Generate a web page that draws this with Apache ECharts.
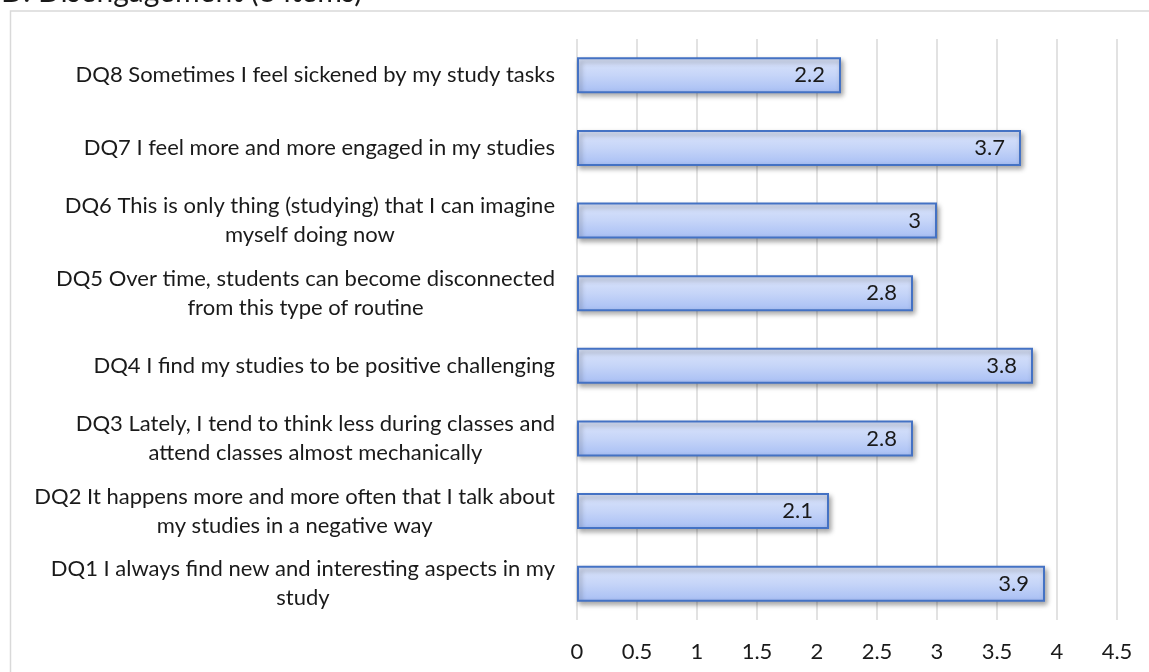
<!DOCTYPE html>
<html>
<head>
<meta charset="utf-8">
<script src="https://cdn.jsdelivr.net/npm/echarts@6/dist/echarts.min.js"></script>
<style>
  html, body { margin: 0; padding: 0; background: #ffffff; }
  #chart { width: 1149px; height: 672px; }
</style>
</head>
<body>
<div id="chart"></div>
<script>
// Survey items, bottom to top (DQ1 .. DQ8); "\n" marks where the label wraps
const categories = [
  'DQ1 I always find new and interesting aspects in my\nstudy',
  'DQ2 It happens more and more often that I talk about\nmy studies in a negative way',
  'DQ3 Lately, I tend to think less during classes and\nattend classes almost mechanically',
  'DQ4 I find my studies to be positive challenging',
  'DQ5 Over time, students can become disconnected\nfrom this type of routine',
  'DQ6 This is only thing (studying) that I can imagine\nmyself doing now',
  'DQ7 I feel more and more engaged in my studies',
  'DQ8 Sometimes I feel sickened by my study tasks'
];

// Mean score for each item
const scores = [3.9, 2.1, 2.8, 3.8, 2.8, 3.0, 3.7, 2.2];

// Value axis ticks
const axisMin = 0;
const axisMax = 4.5;
const axisStep = 0.5;

const titleText = 'D. Disengagement (8 items)';

const FONT = 'Lato, "Liberation Sans", sans-serif';
const TEXT_COLOR = '#1a1a1a';
const LABEL_SIZE = 22;

const chart = echarts.init(document.getElementById('chart'));

chart.setOption({
  backgroundColor: '#ffffff',
  animation: false,
  graphic: [
    {
      type: 'rect',
      z: -10,
      silent: true,
      shape: { x: 10.5, y: 11, width: 1300, height: 800 },
      style: { fill: 'none', stroke: '#d9d9d9', lineWidth: 1.5 }
    },
    {
      type: 'text',
      left: 1,
      top: -23,
      silent: true,
      style: {
        text: titleText,
        fontFamily: FONT,
        fontSize: 30,
        fill: TEXT_COLOR
      }
    }
  ],
  grid: { left: 577, right: 32, top: 39, bottom: 52 },
  xAxis: {
    type: 'value',
    min: axisMin,
    max: axisMax,
    interval: axisStep,
    axisLine: { show: false },
    axisTick: { show: false },
    splitLine: { show: true, lineStyle: { color: '#d9d9d9', width: 1.5 } },
    axisLabel: {
      margin: 21,
      fontFamily: FONT,
      fontSize: LABEL_SIZE,
      color: TEXT_COLOR,
      formatter: v => String(v)
    }
  },
  yAxis: {
    type: 'category',
    data: categories,
    axisLine: { show: false },
    axisTick: { show: false },
    splitLine: { show: false },
    axisLabel: {
      margin: 22,
      fontFamily: FONT,
      fontSize: LABEL_SIZE,
      color: TEXT_COLOR,
      lineHeight: 29,
      formatter: v => v.split('\n').map(line => '{c|' + line + '}').join('\n'),
      rich: {
        c: {
          align: 'center',
          fontFamily: FONT,
          fontSize: LABEL_SIZE,
          lineHeight: 29,
          color: TEXT_COLOR
        }
      }
    }
  },
  series: [
    {
      type: 'bar',
      data: scores,
      barWidth: 36,
      itemStyle: {
        color: new echarts.graphic.LinearGradient(0, 0, 0, 1, [
          { offset: 0, color: '#dce5fb' },
          { offset: 0.5, color: '#c6d5f8' },
          { offset: 1, color: '#a7bef4' }
        ]),
        borderColor: '#4472c4',
        borderWidth: 2,
        shadowColor: 'rgba(0,0,0,0.35)',
        shadowBlur: 5,
        shadowOffsetX: 2,
        shadowOffsetY: 3
      },
      label: {
        show: true,
        position: 'insideRight',
        distance: 16,
        fontFamily: FONT,
        fontSize: LABEL_SIZE,
        color: TEXT_COLOR,
        formatter: p => String(p.value)
      }
    }
  ]
});
</script>
</body>
</html>
